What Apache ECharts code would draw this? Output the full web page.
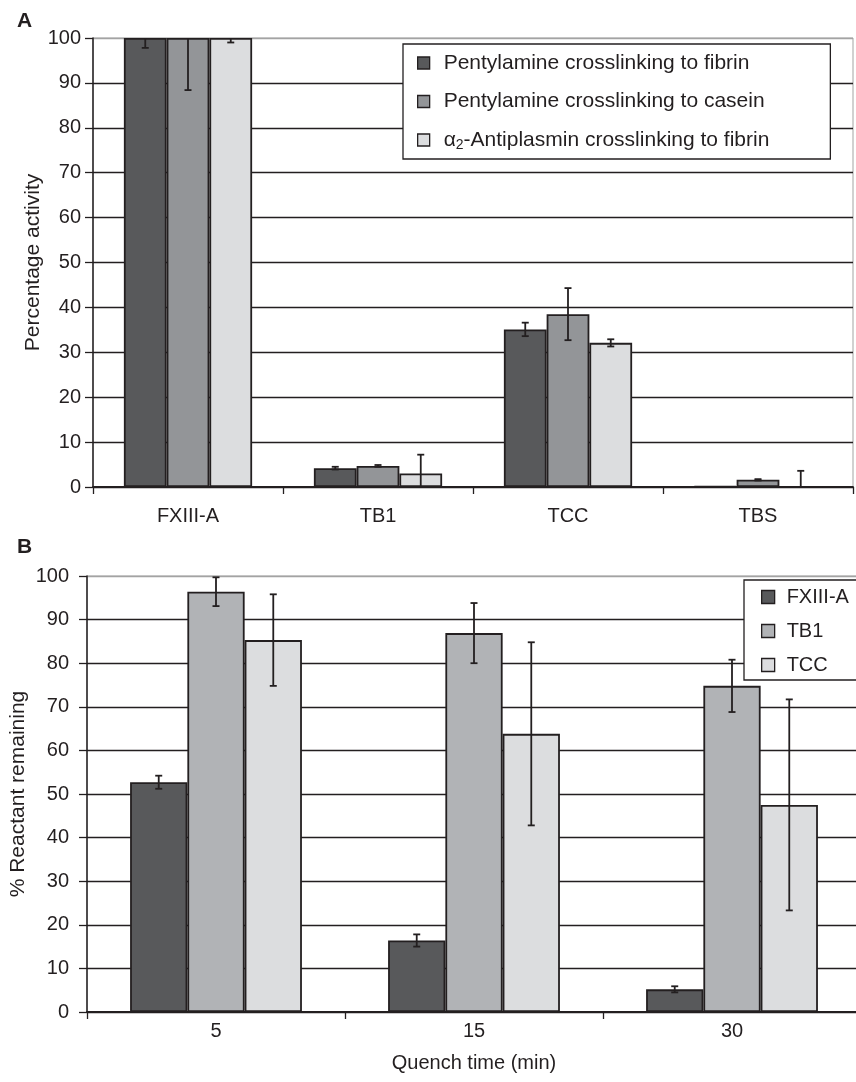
<!DOCTYPE html>
<html>
<head>
<meta charset="utf-8">
<script src="https://cdn.jsdelivr.net/npm/echarts@6/dist/echarts.min.js"></script>
<style>
html,body{margin:0;padding:0;background:#fff;}
#chart{width:856px;height:1082px;}
</style>
</head>
<body>
<div id="chart"></div>
<script>
// ---------- Panel A data ----------
const categoriesA = ['FXIII-A', 'TB1', 'TCC', 'TBS'];
const seriesNamesA = ['Pentylamine crosslinking to fibrin', 'Pentylamine crosslinking to casein', 'α2-Antiplasmin crosslinking to fibrin'];
const pentFibrin = [100, 4.2, 35.1, 0.2];
const pentFibrinErr = [2.2, 0.3, 1.5, 0];
const pentCasein = [100, 4.7, 38.5, 1.6];
const pentCaseinErr = [11.6, 0.2, 5.8, 0.15];
const antiplasmin = [100, 3.0, 32.1, 0];
const antiplasminErr = [1.0, 4.2, 0.8, 3.6];

// ---------- Panel B data ----------
const categoriesB = ['5', '15', '30'];
const seriesNamesB = ['FXIII-A', 'TB1', 'TCC'];
const fxiiiA = [52.7, 16.4, 5.2];
const fxiiiAErr = [1.5, 1.4, 0.7];
const tb1 = [96.4, 86.9, 74.8];
const tb1Err = [3.3, 6.9, 6.0];
const tcc = [85.3, 63.8, 47.5];
const tccErr = [10.5, 21.0, 24.2];

const yTicks = [0, 10, 20, 30, 40, 50, 60, 70, 80, 90, 100];

const INK = '#231f20';
const FONT = '"Liberation Sans", Arial, Helvetica, sans-serif';
const colorsA = ['#58595b', '#939598', '#dcdddf'];
const colorsB = ['#58595b', '#b1b3b6', '#dcdddf'];

const BAR_PCT_A = 0.225;
const BAR_PCT_B = 0.222;

function errRenderer(idx, n, pct) {
  return function (params, api) {
    const cat = api.value(0), val = api.value(1), err = api.value(2);
    if (!err) return null;
    const band = api.size([1, 0])[0];
    const bw = band * pct;
    const base = api.coord([cat, 0]);
    const x = base[0] + (idx - (n - 1) / 2) * bw;
    const hiV = val + err, loV = val - err;
    const yHi = api.coord([cat, Math.min(hiV, 100)])[1];
    const yLo = api.coord([cat, Math.max(loV, 0)])[1];
    const st = { stroke: INK, lineWidth: 1.8 };
    const children = [{ type: 'line', shape: { x1: x, y1: yHi, x2: x, y2: yLo }, style: st }];
    const cap = 3.5;
    if (hiV <= 100) children.push({ type: 'line', shape: { x1: x - cap, y1: yHi, x2: x + cap, y2: yHi }, style: st });
    if (loV >= 0) children.push({ type: 'line', shape: { x1: x - cap, y1: yLo, x2: x + cap, y2: yLo }, style: st });
    return { type: 'group', children: children };
  };
}

function barSeries(name, data, color, axisIdx, pct) {
  return {
    name: name, type: 'bar', xAxisIndex: axisIdx, yAxisIndex: axisIdx,
    data: data, barWidth: (pct * 100) + '%', barGap: '0%',
    itemStyle: { color: color, borderColor: INK, borderWidth: 1.8 },
    emphasis: { disabled: true }, animation: false, z: 3
  };
}
function errSeries(vals, errs, idx, axisIdx, pct) {
  return {
    name: 'err' + axisIdx + '_' + idx, type: 'custom', xAxisIndex: axisIdx, yAxisIndex: axisIdx,
    renderItem: errRenderer(idx, 3, pct),
    data: vals.map((v, i) => [i, v, errs[i]]),
    encode: { x: 0, y: 1 }, z: 5, animation: false, silent: true
  };
}

const splitColors = yTicks.map((t, i) => i === yTicks.length - 1 ? '#a3a3a3' : INK);

const chart = echarts.init(document.getElementById('chart'), null, { renderer: 'canvas' });
chart.setOption({
  backgroundColor: '#fff',
  animation: false,
  textStyle: { fontFamily: FONT, color: INK },
  graphic: [
    { type: 'text', left: 17, top: 11, style: { text: 'A', font: 'bold 21px ' + FONT, fill: INK } },
    { type: 'text', left: 17, top: 537, style: { text: 'B', font: 'bold 21px ' + FONT, fill: INK } }
  ],
  grid: [
    { left: 93, top: 38, width: 760, height: 449, show: true, borderColor: '#a3a3a3', borderWidth: 1, backgroundColor: 'transparent', outerBoundsMode: 'none', containLabel: false },
    { left: 87, top: 576, width: 774, height: 436, show: true, borderColor: '#a3a3a3', borderWidth: 1, backgroundColor: 'transparent', outerBoundsMode: 'none', containLabel: false }
  ],
  legend: [
    {
      data: seriesNamesA, orient: 'vertical', left: 403, top: 44,
      padding: [7, 61, 7, 14], itemGap: 14.5, itemWidth: 12, itemHeight: 12, itemTextGap: 14,
      backgroundColor: '#fff', borderColor: INK, borderWidth: 1.3,
      icon: 'rect', itemStyle: { borderColor: INK, borderWidth: 1.3 },
      selectedMode: false, z: 10,
      formatter: function (n) {
        if (n.indexOf('α2') === 0) return '{a|α}{s|2}{a|' + n.slice(2) + '}';
        return '{a|' + n + '}';
      },
      textStyle: {
        fontSize: 21, color: INK, fontFamily: FONT, lineHeight: 24, padding: [0, 0, 0, 9],
        rich: {
          a: { fontSize: 21, color: INK, fontFamily: FONT, lineHeight: 24 },
          s: { fontSize: 14, color: INK, fontFamily: FONT, verticalAlign: 'bottom', lineHeight: 24, padding: [10, 0, 0, 0] }
        }
      }
    },
    {
      data: seriesNamesB, orient: 'vertical', left: 744, top: 580,
      padding: [6, 40, 4, 17], itemGap: 12, itemWidth: 13, itemHeight: 13, itemTextGap: 13,
      backgroundColor: '#fff', borderColor: INK, borderWidth: 1.3,
      icon: 'rect', itemStyle: { borderColor: INK, borderWidth: 1.3 },
      selectedMode: false, z: 10,
      textStyle: { fontSize: 20, color: INK, fontFamily: FONT, lineHeight: 22, padding: [0, 0, 0, 7] }
    }
  ],
  xAxis: [
    {
      type: 'category', gridIndex: 0, data: categoriesA,
      axisLine: { lineStyle: { color: INK, width: 1.8 } },
      axisTick: { show: true, length: 7, lineStyle: { color: INK, width: 1.3 } },
      axisLabel: { fontSize: 20, color: INK, fontFamily: FONT, margin: 19 }
    },
    {
      type: 'category', gridIndex: 1, data: categoriesB,
      name: 'Quench time (min)', nameLocation: 'middle', nameGap: 41, nameMoveOverlap: false,
      nameTextStyle: { fontSize: 20, color: INK, fontFamily: FONT },
      axisLine: { lineStyle: { color: INK, width: 1.8 } },
      axisTick: { show: true, length: 7, lineStyle: { color: INK, width: 1.3 } },
      axisLabel: { fontSize: 20, color: INK, fontFamily: FONT, margin: 9 }
    }
  ],
  yAxis: [
    {
      type: 'value', gridIndex: 0, min: 0, max: 100, interval: 10,
      name: 'Percentage activity', nameLocation: 'middle', nameGap: 49, nameMoveOverlap: false,
      nameTextStyle: { fontSize: 21, color: INK, fontFamily: FONT },
      axisLine: { show: true, lineStyle: { color: INK, width: 1.5 } },
      axisTick: { show: true, length: 8, lineStyle: { color: INK, width: 1.3 } },
      axisLabel: { fontSize: 20, color: INK, fontFamily: FONT, margin: 12 },
      splitLine: { show: true, lineStyle: { color: splitColors, width: 1.3 } }
    },
    {
      type: 'value', gridIndex: 1, min: 0, max: 100, interval: 10,
      name: '% Reactant remaining', nameLocation: 'middle', nameGap: 58, nameMoveOverlap: false,
      nameTextStyle: { fontSize: 21, color: INK, fontFamily: FONT },
      axisLine: { show: true, lineStyle: { color: INK, width: 1.5 } },
      axisTick: { show: true, length: 8, lineStyle: { color: INK, width: 1.3 } },
      axisLabel: { fontSize: 20, color: INK, fontFamily: FONT, margin: 18 },
      splitLine: { show: true, lineStyle: { color: splitColors, width: 1.3 } }
    }
  ],
  series: [
    barSeries(seriesNamesA[0], pentFibrin, colorsA[0], 0, BAR_PCT_A),
    barSeries(seriesNamesA[1], pentCasein, colorsA[1], 0, BAR_PCT_A),
    barSeries(seriesNamesA[2], antiplasmin, colorsA[2], 0, BAR_PCT_A),
    errSeries(pentFibrin, pentFibrinErr, 0, 0, BAR_PCT_A),
    errSeries(pentCasein, pentCaseinErr, 1, 0, BAR_PCT_A),
    errSeries(antiplasmin, antiplasminErr, 2, 0, BAR_PCT_A),
    barSeries(seriesNamesB[0], fxiiiA, colorsB[0], 1, BAR_PCT_B),
    barSeries(seriesNamesB[1], tb1, colorsB[1], 1, BAR_PCT_B),
    barSeries(seriesNamesB[2], tcc, colorsB[2], 1, BAR_PCT_B),
    errSeries(fxiiiA, fxiiiAErr, 0, 1, BAR_PCT_B),
    errSeries(tb1, tb1Err, 1, 1, BAR_PCT_B),
    errSeries(tcc, tccErr, 2, 1, BAR_PCT_B)
  ]
});
</script>
</body>
</html>
